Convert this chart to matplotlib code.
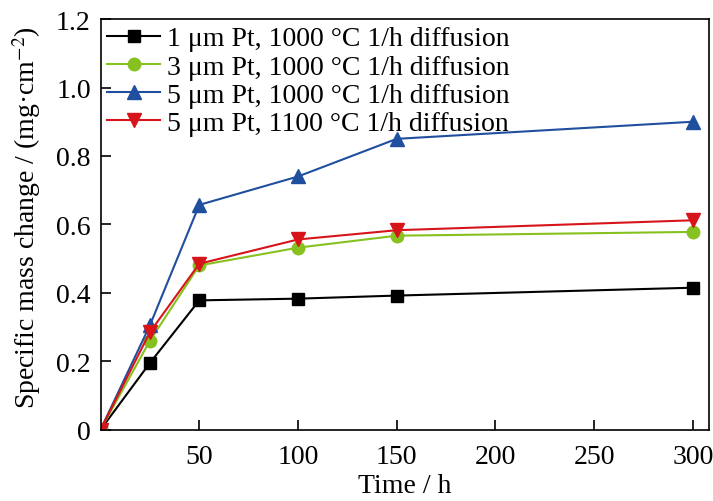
import numpy as np
import matplotlib.pyplot as plt

plt.rcParams['font.family'] = ['Liberation Serif', 'DejaVu Serif']
plt.rcParams['mathtext.fontset'] = 'stix'

# data
time = [0, 25, 50, 100, 150, 300]
pt1_1000 = [0, 0.195, 0.378, 0.383, 0.392, 0.415]
pt3_1000 = [0, 0.26, 0.48, 0.532, 0.567, 0.578]
pt5_1000 = [0, 0.305, 0.657, 0.74, 0.85, 0.90]
pt5_1100 = [0, 0.285, 0.485, 0.556, 0.583, 0.612]

labels = ['1 \u03bcm Pt, 1000 \u00b0C 1/h diffusion',
          '3 \u03bcm Pt, 1000 \u00b0C 1/h diffusion',
          '5 \u03bcm Pt, 1000 \u00b0C 1/h diffusion',
          '5 \u03bcm Pt, 1100 \u00b0C 1/h diffusion']

xticks = [50, 100, 150, 200, 250, 300]
yticks = [0, 0.2, 0.4, 0.6, 0.8, 1.0, 1.2]
ytick_labels = ['0', '0.2', '0.4', '0.6', '0.8', '1.0', '1.2']

fig = plt.figure(figsize=(7.13, 5.02), dpi=100)
ax = fig.add_axes([0.141, 0.142, 0.853, 0.818])

ax.plot(time, pt1_1000, '-s', color='black', lw=1.5, ms=8, label=labels[0])
ax.plot(time, pt3_1000, '-o', color='#86c11f', lw=1.5, ms=9, label=labels[1])
ax.plot(time, pt5_1000, '-^', color='#1f4f9e', lw=1.5, ms=10, label=labels[2])
ax.plot(time, pt5_1100, '-v', color='#d7141a', lw=1.5, ms=10, label=labels[3])

ax.set_xlim(0, 308)
ax.set_ylim(0, 1.2)
ax.set_xticks(xticks)
ax.set_yticks(yticks)
ax.set_yticklabels(ytick_labels)
ax.tick_params(direction='in', length=7, width=1.2, labelsize=20)
ax.tick_params(axis='x', pad=10)
ax.tick_params(axis='y', pad=7)
for s in ax.spines.values():
    s.set_linewidth(1.2)

ax.set_xlabel('Time / h', fontsize=20, labelpad=3)
ax.set_ylabel('Specific mass change / (mg\u00b7cm$^{-2}$)', fontsize=20)
ax.yaxis.set_label_coords(-0.094, 0.52)

ax.legend(loc='upper left', frameon=False, fontsize=20, handlelength=1.9,
          labelspacing=0.1, borderaxespad=0.0, handletextpad=0.25,
          borderpad=0.25)

fig.savefig('out.png', dpi=100)
